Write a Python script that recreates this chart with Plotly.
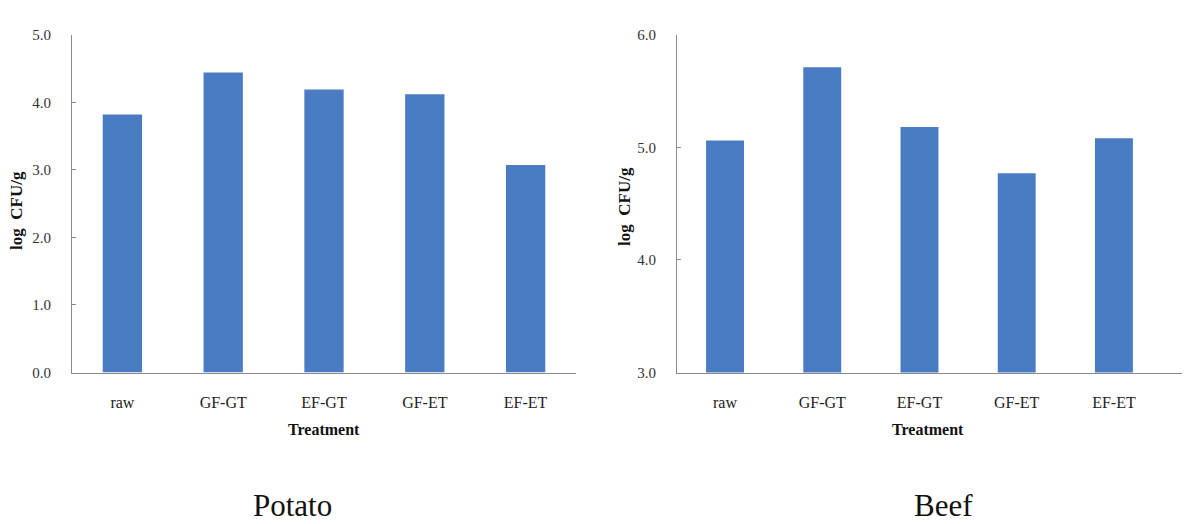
import plotly.graph_objects as go

# Treatment groups and microbial counts (log CFU/g)
treatments = ["raw", "GF-GT", "EF-GT", "GF-ET", "EF-ET"]
potato_counts = [3.82, 4.44, 4.19, 4.12, 3.07]
beef_counts = [5.06, 5.71, 5.18, 4.77, 5.08]

potato_ticks = [0.0, 1.0, 2.0, 3.0, 4.0, 5.0]
beef_ticks = [3.0, 4.0, 5.0, 6.0]

W, H = 1184, 524
BAR = "#4a7cc4"
AXIS = "#8a8a8a"
SERIF = "Liberation Serif, Times New Roman, serif"

# vertical placement helper: pixel row -> paper fraction (measured from bottom)
TOP_PAD, USABLE = 8.0, 508.0


def py(row):
    return 1 - (row - TOP_PAD) / USABLE


fig = go.Figure()
fig.add_trace(go.Bar(x=treatments, y=potato_counts, marker_color=BAR,
                     marker_line_width=0, xaxis="x", yaxis="y", showlegend=False))
fig.add_trace(go.Bar(x=treatments, y=beef_counts, marker_color=BAR,
                     marker_line_width=0, xaxis="x2", yaxis="y2", showlegend=False))

y_dom = [py(372.5), py(34.7)]

xcommon = dict(showline=True, linecolor=AXIS, linewidth=1.2, ticks="",
               showgrid=False, zeroline=False,
               tickfont=dict(family=SERIF, size=16, color="#222"),
               ticklabelstandoff=15, type="category")
ycommon = dict(showline=True, linecolor=AXIS, linewidth=1.2, ticks="inside",
               ticklen=4, tickcolor=AXIS, showgrid=False, zeroline=False,
               tickformat=".1f",
               tickfont=dict(family=SERIF, size=15, color="#333"),
               ticklabelstandoff=17)

fig.update_layout(
    width=W, height=H,
    margin=dict(l=0, r=0, t=0, b=0),
    paper_bgcolor="white", plot_bgcolor="white",
    bargap=0.61,
    xaxis=dict(domain=[72 / W, 576 / W], range=[-0.5, 4.5], anchor="y", **xcommon),
    yaxis=dict(domain=y_dom, range=[0, 5], tickvals=potato_ticks, anchor="x", **ycommon),
    xaxis2=dict(domain=[677 / W, 1182 / W], range=[-0.494, 4.7], anchor="y2", **xcommon),
    yaxis2=dict(domain=y_dom, range=[3, 6], tickvals=beef_ticks, anchor="x2", **ycommon),
)


def ann(text, x, y, size, bold=False, angle=0):
    fig.add_annotation(
        text=f"<b>{text}</b>" if bold else text,
        x=x / W, y=py(y), xref="paper", yref="paper",
        showarrow=False, textangle=angle, xanchor="center", yanchor="middle",
        font=dict(family=SERIF, size=size, color="#111"),
    )


# axis titles
ann("Treatment", 324, 429, 16, bold=True)
ann("Treatment", 928, 429, 16, bold=True)
ann("log&nbsp;&nbsp;CFU/g", 17, 211, 17, bold=True, angle=-90)
ann("log&nbsp;&nbsp;CFU/g", 624, 206, 17, bold=True, angle=-90)

# panel captions
ann("Potato", 292, 505, 31)
ann("Beef", 943, 505, 31)

fig.write_html("out.html")
